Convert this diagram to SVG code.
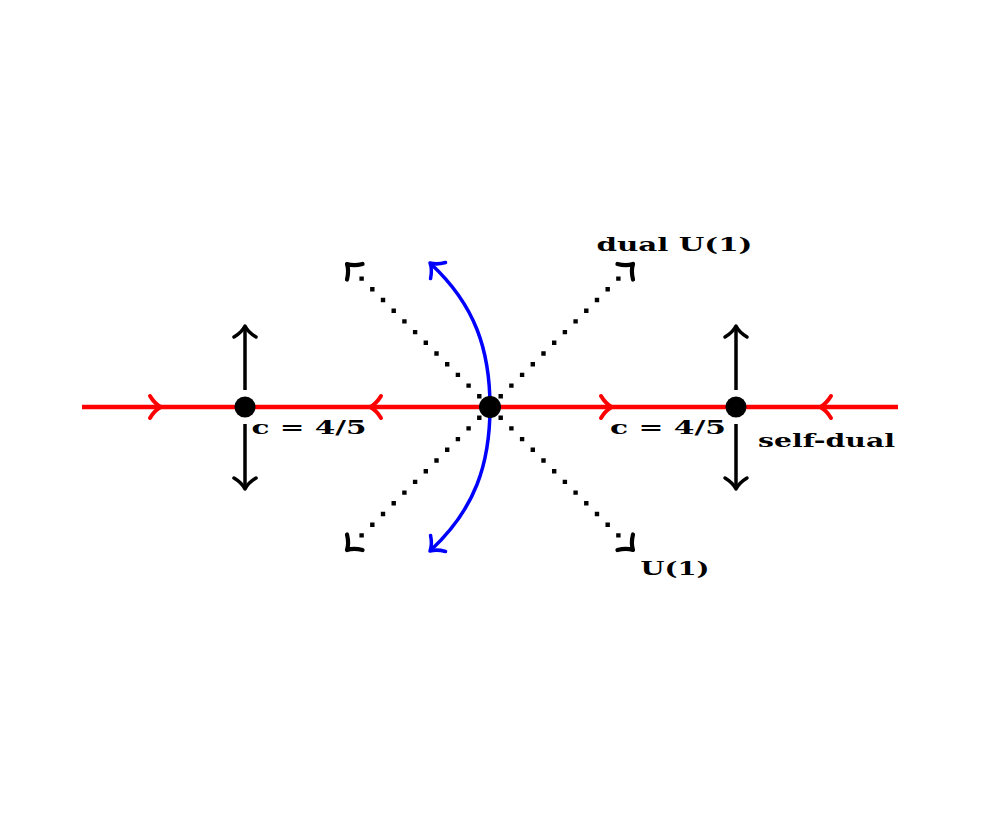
<svg xmlns="http://www.w3.org/2000/svg" xmlns:xlink="http://www.w3.org/1999/xlink" width="981" height="815" viewBox="0 0 981 815">
<style>
.red{stroke:#ff0000;stroke-width:4.5;fill:none}
.blue{stroke:#0000ff;stroke-width:3.5;fill:none}
.blk{stroke:#000;stroke-width:3.5;fill:none}
.dot{stroke:#000;stroke-width:4.4;fill:none;stroke-dasharray:0 15.13;stroke-linecap:square}
.head{fill:none;stroke-linecap:round;stroke-linejoin:round}
.lbl{font-family:"DejaVu Serif","Liberation Serif",serif;font-weight:bold;font-size:18.5px;fill:#000}
.node{fill:#000}
</style>
<defs>
<path id="ah" d="M -11,-11 C -8,-6 -3,-1.5 0,0 C -3,1.5 -8,6 -11,11"/>
</defs>
<rect width="981" height="815" fill="#fff"/>
<g id="connectors">
  <line class="red" x1="82" y1="407" x2="898" y2="407"/>
  <g class="head" stroke="#ff0000" stroke-width="4">
    <use xlink:href="#ah" href="#ah" transform="translate(161,407)"/>
    <use xlink:href="#ah" href="#ah" transform="translate(370,407) rotate(180)"/>
    <use xlink:href="#ah" href="#ah" transform="translate(612,407)"/>
    <use xlink:href="#ah" href="#ah" transform="translate(820,407) rotate(180)"/>
  </g>
  <path class="dot" d="M490,407 L361.5,278.5"/>
  <path class="dot" d="M490,407 L618.5,278.5"/>
  <path class="dot" d="M490,407 L361.5,535.5"/>
  <path class="dot" d="M490,407 L618.5,535.5"/>
  <g class="head" stroke="#000" stroke-width="4.2">
    <use xlink:href="#ah" href="#ah" transform="translate(347,264) rotate(225)"/>
    <use xlink:href="#ah" href="#ah" transform="translate(633,264) rotate(315)"/>
    <use xlink:href="#ah" href="#ah" transform="translate(347,550) rotate(135)"/>
    <use xlink:href="#ah" href="#ah" transform="translate(633,550) rotate(45)"/>
  </g>
  <path class="blue" d="M490,407 C490,350 475,305 431,264"/>
  <path class="blue" d="M490,407 C490,464 475,509 431,550"/>
  <g class="head" stroke="#0000ff" stroke-width="3.5">
    <use xlink:href="#ah" href="#ah" transform="translate(430,263) rotate(-137)"/>
    <use xlink:href="#ah" href="#ah" transform="translate(430,551) rotate(137)"/>
  </g>
  <line class="blk" x1="245" y1="390" x2="245" y2="328"/>
  <line class="blk" x1="245" y1="424" x2="245" y2="487"/>
  <line class="blk" x1="736" y1="390" x2="736" y2="328"/>
  <line class="blk" x1="736" y1="424" x2="736" y2="487"/>
  <g class="head" stroke="#000" stroke-width="3.5">
    <use xlink:href="#ah" href="#ah" transform="translate(245,326) rotate(-90)"/>
    <use xlink:href="#ah" href="#ah" transform="translate(245,489) rotate(90)"/>
    <use xlink:href="#ah" href="#ah" transform="translate(736,326) rotate(-90)"/>
    <use xlink:href="#ah" href="#ah" transform="translate(736,489) rotate(90)"/>
  </g>
</g>
<g id="fp-left">
  <circle class="node" cx="245" cy="407" r="10.5"/>
  <text class="lbl" x="251.5" y="433.5" textLength="115" lengthAdjust="spacingAndGlyphs">c = 4/5</text>
</g>
<g id="fp-center">
  <circle class="node" cx="490" cy="407" r="11"/>
</g>
<g id="fp-right">
  <circle class="node" cx="736" cy="407" r="10.5"/>
  <text class="lbl" x="610" y="433.5" textLength="116" lengthAdjust="spacingAndGlyphs">c = 4/5</text>
  <text class="lbl" x="758" y="447" textLength="137" lengthAdjust="spacingAndGlyphs">self-dual</text>
</g>
<g id="label-dual">
  <text class="lbl" x="596.5" y="250.5" textLength="156" lengthAdjust="spacingAndGlyphs">dual U(1)</text>
</g>
<g id="label-u1">
  <text class="lbl" x="640.5" y="574.5" textLength="69" lengthAdjust="spacingAndGlyphs">U(1)</text>
</g>
</svg>
